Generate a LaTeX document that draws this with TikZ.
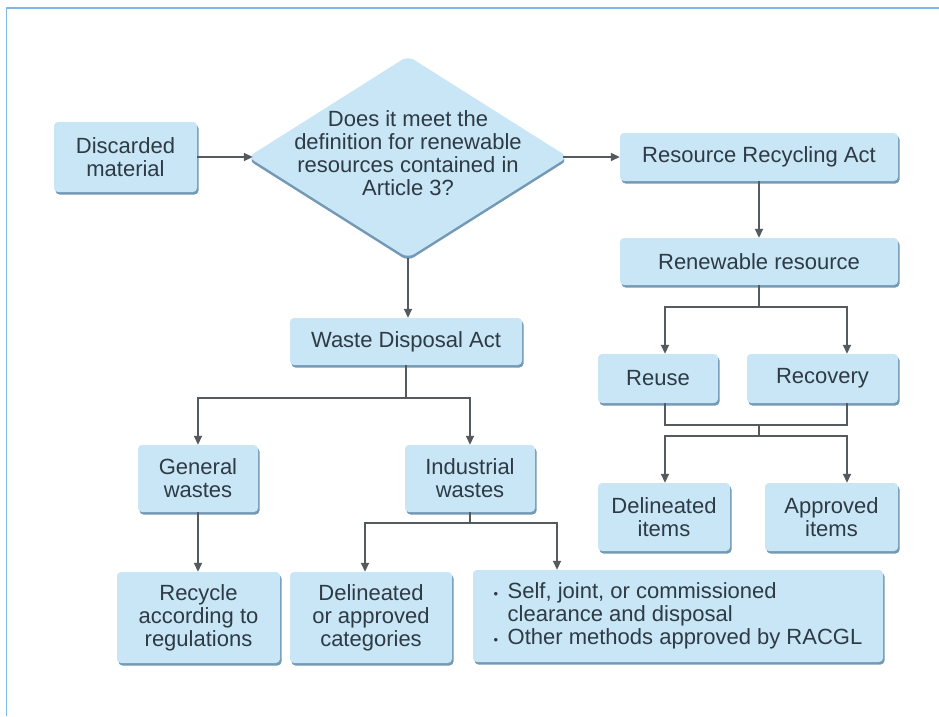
\documentclass[tikz,border=0pt]{standalone}
\usepackage{fontspec}
\setmainfont{Liberation Sans}
\usetikzlibrary{arrows.meta,shapes.geometric,shadows}
\definecolor{boxfill}{HTML}{C8E6F6}
\definecolor{boxshadow}{HTML}{7399B5}
\definecolor{txt}{HTML}{2E3A44}
\definecolor{linec}{HTML}{555A5E}
\definecolor{framec}{HTML}{7DB8E8}
\begin{document}
\begin{tikzpicture}[x=1pt,y=-1pt,
  box/.style={fill=boxfill, rounded corners=4pt,
    drop shadow={shadow xshift=1.5pt,shadow yshift=-2.5pt,fill=boxshadow,opacity=1},
    text=txt, font=\fontsize{22}{23}\selectfont, align=center, inner sep=0pt},
  diabox/.style={shape=diamond, fill=boxfill, rounded corners=7pt, inner sep=0pt,
    drop shadow={shadow xshift=0pt,shadow yshift=-3pt,fill=boxshadow,opacity=1}},
  lbl/.style={text=txt, font=\fontsize{22}{23}\selectfont, align=center, inner sep=0pt},
  line/.style={draw=linec, line width=1.6pt},
  arr/.style={line, -{Triangle[length=9pt,width=8pt]}}]
\fill[white] (0,0) rectangle (939,716);
\useasboundingbox (0,0) rectangle (939,716);
\draw[framec, line width=1.5pt] (6.5,716) -- (6.5,8) -- (939,8);

% nodes
\node[box, minimum width=143pt, minimum height=70pt] (disc) at (125.5,157) {Discarded\\material};
\node[diabox, minimum width=320pt, minimum height=202pt] (dq) at (408,157) {};
\node[lbl] (dqt) at (408,153) {Does it meet the\\definition for renewable\\resources contained in\\Article 3?};
\node[box, minimum width=278pt, minimum height=48pt] (rra) at (759,157) {Resource Recycling Act};
\node[box, minimum width=278pt, minimum height=47pt] (rr) at (759,261.5) {Renewable resource};
\node[box, minimum width=120pt, minimum height=49pt] (reuse) at (658,378.5) {Reuse};
\node[box, minimum width=151pt, minimum height=49pt] (recov) at (822.5,378.5) {Recovery};
\node[box, minimum width=132pt, minimum height=68pt] (delit) at (664,517) {Delineated\\items};
\node[box, minimum width=133pt, minimum height=68pt] (appit) at (831.5,517) {Approved\\items};
\node[box, minimum width=232pt, minimum height=47pt] (wda) at (406,341.5) {Waste Disposal Act};
\node[box, minimum width=120pt, minimum height=67pt] (gen) at (198,478.5) {General\\wastes};
\node[box, minimum width=130pt, minimum height=67pt] (ind) at (470,478.5) {Industrial\\wastes};
\node[box, minimum width=163pt, minimum height=91pt] (rec) at (198.5,617.5) {Recycle\\according to\\regulations};
\node[box, minimum width=162pt, minimum height=91pt] (dac) at (371,617.5) {Delineated\\or approved\\categories};
\node[box, minimum width=410pt, minimum height=92pt, align=left] (big) at (678,616)
  {\makebox[14pt][l]{\fontsize{13}{13}\selectfont •}Self, joint, or commissioned\\
   \hspace*{14pt}clearance and disposal\\
   \makebox[14pt][l]{\fontsize{13}{13}\selectfont •}Other methods approved by RACGL};

% junction coordinates
\coordinate (j1) at (759,307);
\coordinate (j2) at (759,425);
\coordinate (j3) at (759,436);
\coordinate (j4) at (406,398);
\coordinate (j5) at (470,523);

% connectors
\draw[arr] (disc.east) -- ([xshift=5pt]dq.west);
\draw[arr] ([xshift=-5pt]dq.east) -- (rra.west);
\draw[arr] (dq.south) -- (dq.south |- wda.north);
\draw[arr] (rra.south) -- (rr.north);
\draw[line] (rr.south) -- (j1);
\draw[arr] (j1) -| ([xshift=7pt]reuse.north);
\draw[arr] (j1) -| ([xshift=24.5pt]recov.north);
\draw[line] ([xshift=7pt]reuse.south) -- ++(0,22) -| ([xshift=24.5pt]recov.south);
\draw[line] (j2) -- (j3);
\draw[arr] (j3) -| ([xshift=1pt]delit.north);
\draw[arr] (j3) -| ([xshift=15.5pt]appit.north);
\draw[line] (wda.south) -- (j4);
\draw[arr] (j4) -| (gen.north);
\draw[arr] (j4) -| (ind.north);
\draw[arr] (gen.south) -- (gen.south |- rec.north);
\draw[line] (ind.south) -- (j5);
\draw[arr] (j5) -| ([xshift=-6pt]dac.north);
\draw[arr] (j5) -| ([xshift=-121pt]big.north);
\end{tikzpicture}
\end{document}
